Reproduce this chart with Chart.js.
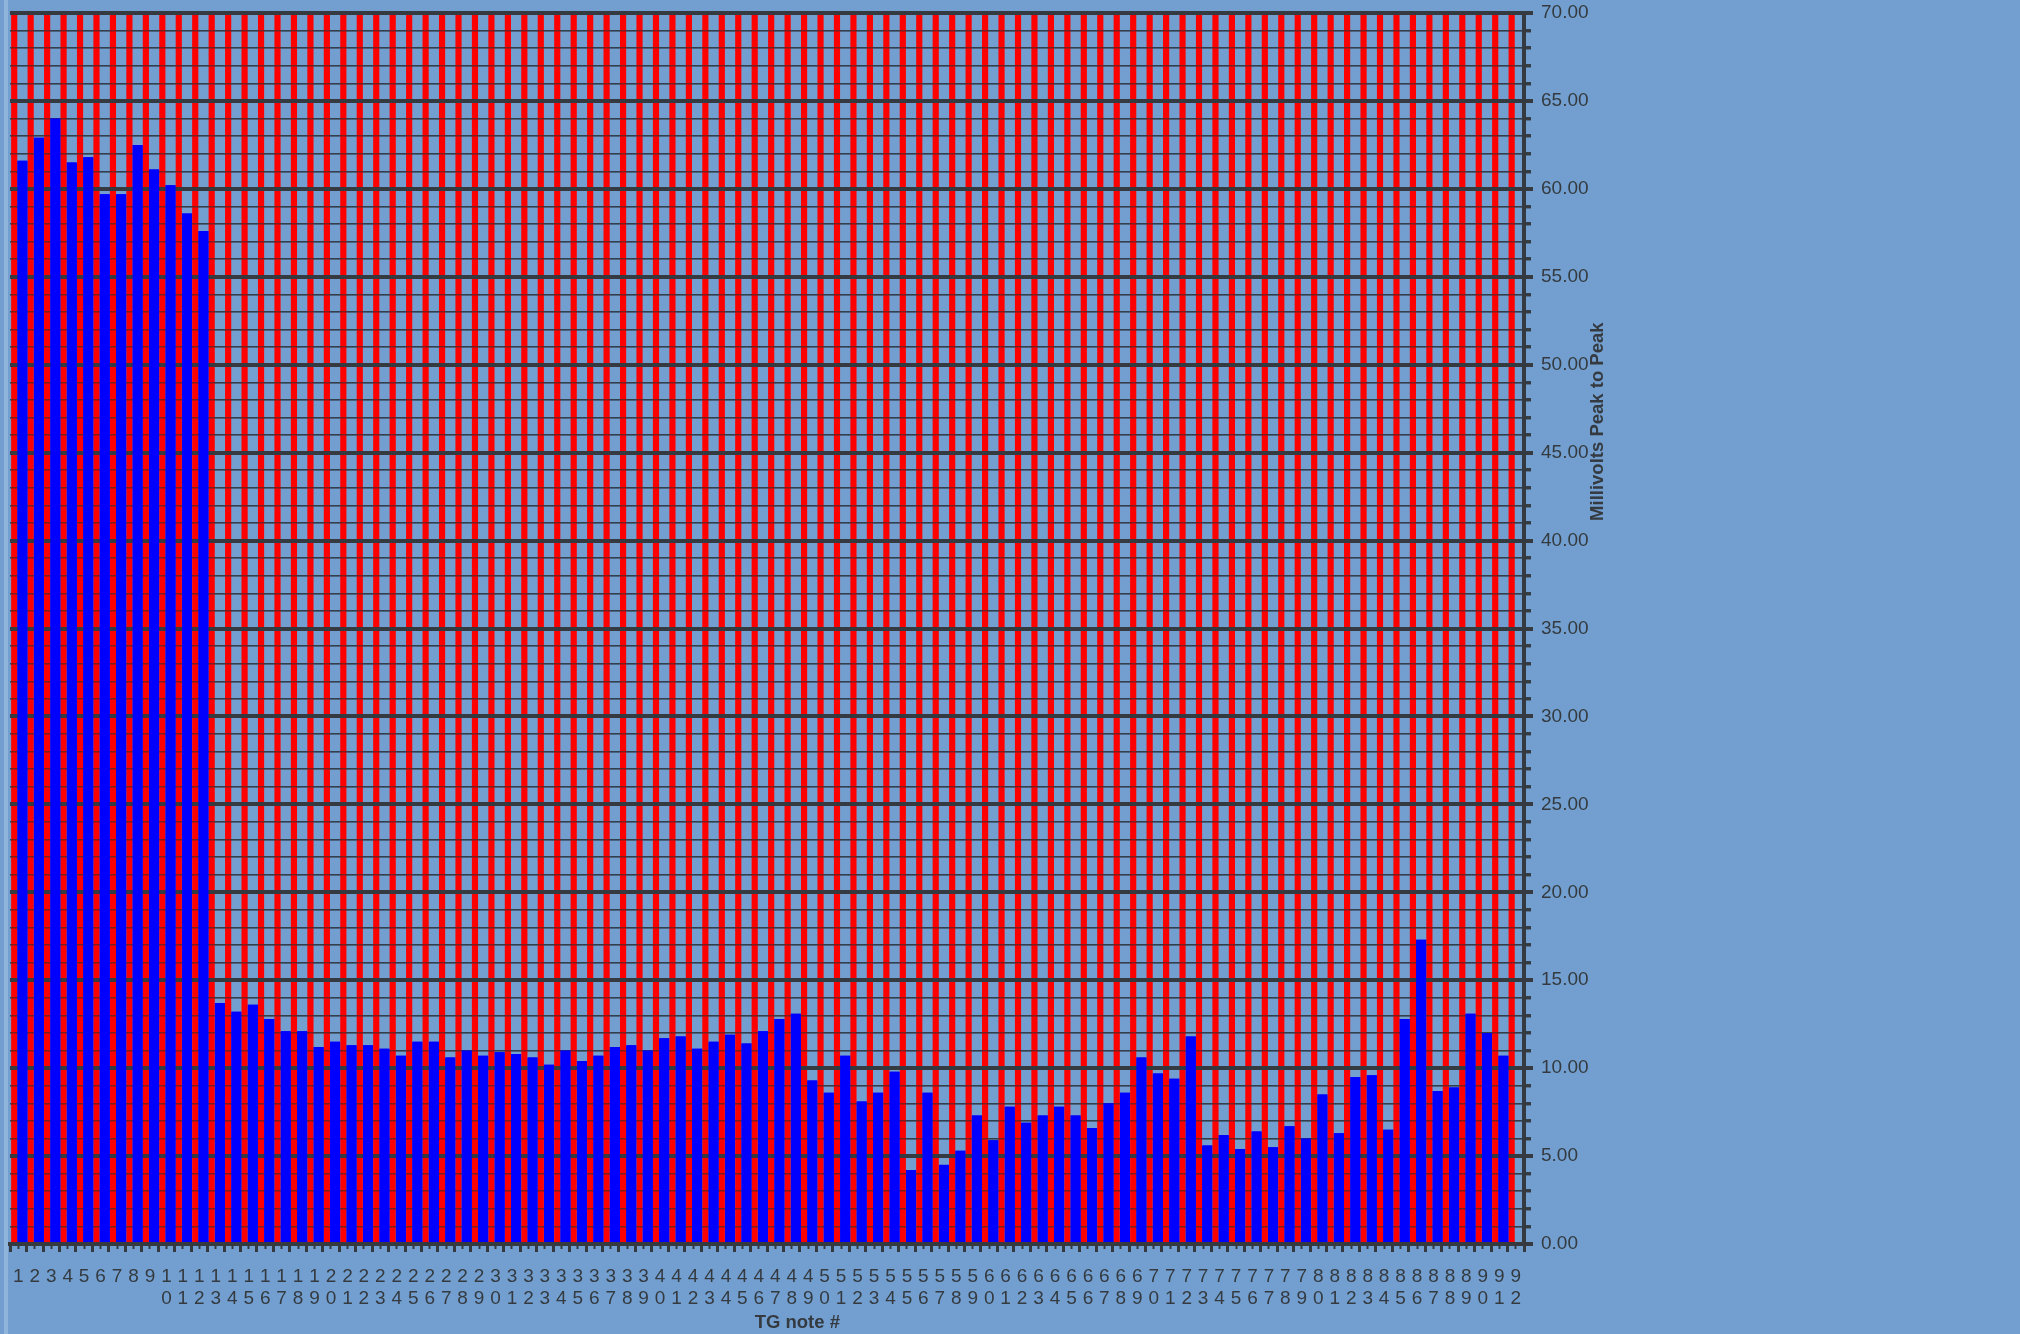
<!DOCTYPE html>
<html>
<head>
<meta charset="utf-8">
<title>TG note peak to peak</title>
<script src="https://cdn.jsdelivr.net/npm/chart.js@4.4.1/dist/chart.umd.min.js"></script>
<style>
html,body{margin:0;padding:0;background:#729fcf;}
#wrap{width:2020px;height:1334px;}
canvas{display:block;background:#729fcf;}
</style>
</head>
<body>
<div id="wrap"><canvas id="mvChart" width="2020" height="1334"></canvas></div>
<script>
// TG note numbers 1..92
const notes=Array.from({length:92},(_,i)=>i+1);
// each note number is written one digit per line under its bar
const noteLabels=notes.map(n=>String(n).split(""));

// millivolts peak to peak per note (note 92 not measured)
const peakToPeak=[
61.6,62.9,64.0,61.5,61.8,59.7,59.7,62.5,61.1,60.2,58.6,57.6,
13.7,13.2,13.6,12.8,12.1,12.1,11.2,11.5,11.3,11.3,11.1,10.7,11.5,11.5,10.6,11.0,10.7,10.9,
10.8,10.6,10.2,11.0,10.4,10.7,11.2,11.3,11.0,11.7,11.8,11.1,11.5,11.9,11.4,12.1,12.8,13.1,
9.3,8.6,10.7,8.1,8.6,9.8,4.2,8.6,4.5,5.3,7.3,5.9,7.8,6.9,7.3,7.8,7.3,6.6,8.0,8.6,10.6,9.7,
9.4,11.8,5.6,6.2,5.4,6.4,5.5,6.7,6.0,8.5,6.3,9.5,9.6,6.5,12.8,17.3,8.7,8.9,13.1,12.0,10.7,null
];

// full scale reference bar for every note
const fullScale=[
70,70,70,70,70,70,70,70,70,70,70,70,70,70,70,70,70,70,70,70,70,70,70,70,70,70,70,70,70,70,
70,70,70,70,70,70,70,70,70,70,70,70,70,70,70,70,70,70,70,70,70,70,70,70,70,70,70,70,70,70,
70,70,70,70,70,70,70,70,70,70,70,70,70,70,70,70,70,70,70,70,70,70,70,70,70,70,70,70,70,70,
70,70
];

const yMin=0, yMax=70, yStep=1, yMajor=5;

const INK="#343a40";
const labelFont={family:"'Liberation Sans Narrow','Arial Narrow','Liberation Sans',Arial,sans-serif",size:19};

// grid goes over the red bars but under the blue ones
const gridBetween={
id:"gridBetween",
afterDatasetsDraw(chart){
chart.scales.y.drawGrid(chart.chartArea);
chart.getDatasetMeta(1).controller.draw();
}
};

// wall edge on the left and the axis titles (y title reads bottom to top)
const axisTitles={
id:"axisTitles",
beforeDraw(chart){
const ctx=chart.ctx;
ctx.save();
ctx.fillStyle="rgba(200,220,240,0.35)";
ctx.fillRect(4,0,4,chart.height);
ctx.restore();
},
afterDraw(chart){
const a=chart.chartArea, ctx=chart.ctx;
ctx.save();
ctx.fillStyle=INK;
ctx.font="bold 18.5px 'Liberation Sans',Arial,sans-serif";
ctx.textAlign="center";
ctx.textBaseline="middle";
ctx.fillText("TG note #",a.left+(a.right-a.left)*0.52,1323);
ctx.translate(a.right+74,a.top+(a.bottom-a.top)*0.332);
ctx.rotate(-Math.PI/2);
ctx.fillText("Millivolts Peak to Peak",0,0);
ctx.restore();
}
};

new Chart(document.getElementById("mvChart"),{
type:"bar",
data:{
labels:noteLabels,
datasets:[
{label:"Full scale",data:fullScale,backgroundColor:"#ff0000",borderWidth:0,barPercentage:0.75,categoryPercentage:1},
{label:"Peak to peak",data:peakToPeak,backgroundColor:"#0000ff",borderWidth:0,barPercentage:1.22,categoryPercentage:1}
]
},
options:{
responsive:false,
animation:false,
devicePixelRatio:1,
layout:{padding:{left:9,top:13,right:400,bottom:0}},
plugins:{legend:{display:false},tooltip:{enabled:false}},
scales:{
x:{
type:"category",
offset:true,
grid:{offset:true,drawOnChartArea:false,color:INK,tickLength:8,tickWidth:3},
border:{display:true,color:INK,width:4},
ticks:{autoSkip:false,maxRotation:0,minRotation:0,padding:13,color:INK,font:labelFont},
afterFit(s){s.height=90;}
},
// short ticks in the middle of each note
x2:{
type:"category",
position:{y:0},
offset:true,
grid:{offset:false,drawOnChartArea:false,color:INK,tickLength:5,tickWidth:2},
border:{display:false},
ticks:{display:false,autoSkip:false}
},
y:{
position:"right",
min:yMin,max:yMax,
grid:{
color:c=>c.tick.value%yMajor===0?INK:"rgba(40,46,52,0.62)",
lineWidth:c=>c.tick.value%yMajor===0?4:1.5,
tickLength:9,
tickWidth:c=>c.tick.value%yMajor===0?4:3,
tickColor:INK,
tickBorderDash:c=>c.tick.value%yMajor===0?[]:[5,100]
},
border:{display:true,color:INK,width:4},
ticks:{
stepSize:yStep,autoSkip:false,padding:8,color:INK,font:labelFont,
callback:v=>v%yMajor===0?v.toFixed(2):""
},
afterFit(s){s.width=96;s.paddingTop=0;s.paddingBottom=0;}
}
}
},
plugins:[gridBetween,axisTitles]
});
</script>
</body>
</html>
